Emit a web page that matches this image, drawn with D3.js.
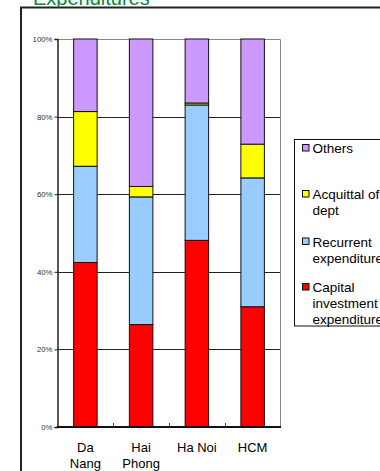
<!DOCTYPE html>
<html><head><meta charset="utf-8">
<script src="https://cdn.jsdelivr.net/npm/d3@7"></script>
<style>body{margin:0;background:#fff;overflow:hidden}svg{display:block;font-family:Arial,"Liberation Sans",sans-serif}</style>
</head><body>
<svg id="c" width="380" height="471"></svg>
<script>
const categories = ["Da Nang", "Hai Phong", "Ha Noi", "HCM"];
const categoryLines = [["Da", "Nang"], ["Hai", "Phong"], ["Ha Noi"], ["HCM"]];
const seriesNames = ["Capital investment expenditure", "Recurrent expenditure", "Acquittal of dept", "Others"];
const capital = [42.4, 26.4, 48.1, 31.0];
const recurrent = [24.8, 32.9, 34.9, 33.2];
const acquittal = [14.1, 2.7, 0.5, 8.7];
const others = [18.7, 38.0, 16.5, 27.1];
const yTicks = [0, 20, 40, 60, 80, 100];
const colors = ["#FF0000", "#99CCFF", "#FFFF00", "#CC99FF"];
const legendLines = [["Others"], ["Acquittal of", "dept"], ["Recurrent", "expenditure"], ["Capital", "investment", "expenditure"]];
const legendColors = ["#CC99FF", "#FFFF00", "#99CCFF", "#FF0000"];

const svg = d3.select("#c");
const L = 57.5, R = 280.5, T = 39, B = 427;
const x = d3.scaleBand().domain(categories).range([L, R]).paddingInner(0).paddingOuter(0);
const y = d3.scaleLinear().domain([0, 100]).range([B, T]);

// title (clipped)
svg.append("clipPath").attr("id", "tc").append("rect").attr("x", 0).attr("y", 0).attr("width", 380).attr("height", 6.5);
svg.append("text").attr("clip-path", "url(#tc)").attr("x", 33).attr("y", 5).attr("font-size", 20)
  .attr("fill", "#008A3E").text("Expenditures");

// outer frame
svg.append("path").attr("d", `M21,471 V7.5 H380`).attr("fill", "none").attr("stroke", "#222").attr("stroke-width", 2);

// gridlines
svg.append("g").selectAll("line").data(yTicks.filter(d => d > 0)).join("line")
  .attr("x1", L).attr("x2", R).attr("y1", d => Math.round(y(d)) + 0.5).attr("y2", d => Math.round(y(d)) + 0.5)
  .attr("stroke", d => d === 100 ? "#888" : "#222").attr("stroke-width", 1);
// right border
svg.append("line").attr("x1", R).attr("x2", R).attr("y1", T + 0.5).attr("y2", B).attr("stroke", "#888");

// stacked data
const rows = categories.map((c, i) => ({cat: c, a: capital[i], b: recurrent[i], c2: acquittal[i], d: others[i]}));
const stack = d3.stack().keys(["a", "b", "c2", "d"]);
const layers = stack(rows);
const bw = 23.5;
svg.append("g").selectAll("g").data(layers).join("g").attr("fill", (d, i) => colors[i])
  .selectAll("rect").data(d => d).join("rect")
  .attr("x", d => x(d.data.cat) + x.bandwidth() / 2 - bw / 2)
  .attr("y", d => y(d[1]))
  .attr("width", bw)
  .attr("height", d => y(d[0]) - y(d[1]))
  .attr("stroke", "#111").attr("stroke-width", 1);

// y axis
const yAxis = d3.axisLeft(y).tickValues(yTicks).tickFormat(d => d + "%").tickSize(3).tickPadding(2);
const ga = svg.append("g").attr("transform", `translate(${L},0)`).call(yAxis);
ga.select(".domain").attr("stroke", "#222").attr("stroke-width", 1.5);
ga.selectAll(".tick line").attr("stroke", "#222");
ga.selectAll(".tick text").attr("font-size", 7.8).attr("fill", "#333").attr("font-family", "Arial, 'Liberation Sans', sans-serif");

// x axis
svg.append("line").attr("x1", L - 0.75).attr("x2", R + 0.5).attr("y1", B).attr("y2", B).attr("stroke", "#111").attr("stroke-width", 2);
const bounds = categories.slice(1).map(c => x(c));
svg.append("g").selectAll("line").data(bounds).join("line")
  .attr("x1", d => Math.round(d) + 0.5).attr("x2", d => Math.round(d) + 0.5).attr("y1", B - 4).attr("y2", B)
  .attr("stroke", "#444");
const xl = svg.append("g").selectAll("text").data(categories).join("text")
  .attr("text-anchor", "middle").attr("font-size", 13).attr("fill", "#000");
xl.each(function(c, i) {
  const t = d3.select(this);
  categoryLines[i].forEach((ln, j) => t.append("tspan").attr("x", x(c) + x.bandwidth() / 2).attr("y", 451.5 + j * 16.5).text(ln));
});

// legend
const lg = svg.append("g");
lg.append("rect").attr("x", 294.5).attr("y", 139.5).attr("width", 120).attr("height", 186.5)
  .attr("fill", "#fff").attr("stroke", "#111").attr("stroke-width", 1);
const itemY = [148, 194, 241.5, 287];
legendLines.forEach((lines, i) => {
  lg.append("rect").attr("x", 302.5).attr("y", itemY[i] - 3.5).attr("width", 6.5).attr("height", 6.5)
    .attr("fill", legendColors[i]).attr("stroke", "#111").attr("stroke-width", 1);
  const t = lg.append("text").attr("font-size", 13.5).attr("fill", "#000");
  lines.forEach((ln, j) => t.append("tspan").attr("x", 312.5).attr("y", itemY[i] + 5 + j * 16).text(ln));
});
</script>
</body></html>
